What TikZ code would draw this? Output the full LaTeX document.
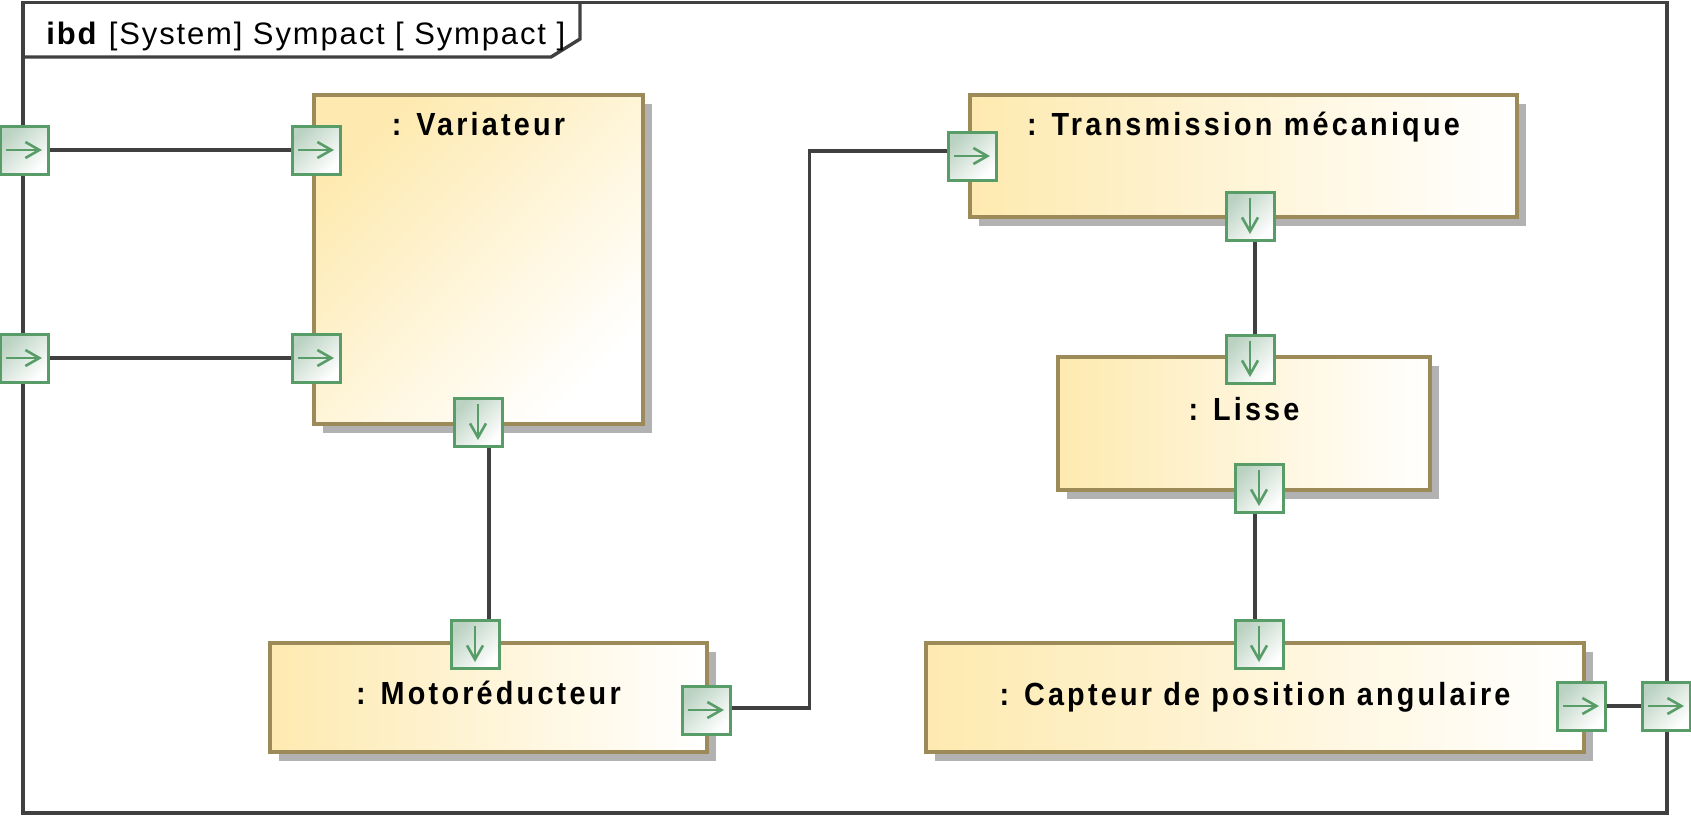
\documentclass[tikz,border=0pt]{standalone}
\usepackage{fontspec}
\setmainfont{Liberation Sans}
\newfontfamily\partfont[LetterSpace=10, FakeStretch=0.9]{Liberation Sans}
\newfontfamily\framefont[LetterSpace=6]{Liberation Sans}
\usetikzlibrary{arrows.meta, positioning, calc, shadows}

\definecolor{partfill}{RGB}{254,234,176}
\definecolor{partline}{RGB}{156,139,88}
\definecolor{partshadow}{RGB}{178,178,178}
\definecolor{portfill}{RGB}{186,210,193}
\definecolor{portline}{RGB}{88,156,104}
\definecolor{connline}{RGB}{64,64,64}

\begin{document}
\begin{tikzpicture}[
  x=0.5pt, y=-0.5pt,
  part/.style={draw=partline, line width=1.6pt, inner sep=0pt, left color=partfill, right color=white,
    general shadow={fill=partshadow, shadow xshift=4.5pt, shadow yshift=-4.5pt}},
  ptitle/.style={anchor=base, inner sep=0pt, font=\partfont\bfseries\fontsize{16pt}{19pt}\selectfont},
  parr/.style={draw=portline, line width=1.3pt, -{Straight Barb[length=7pt, width=8pt]}},
  port/.style={draw=portline, line width=1.5pt, minimum size=24pt, inner sep=0pt,
    top color=portfill, bottom color=white, shading angle=45},
  portR/.style={port, path picture={\draw[parr] ([xshift=-9pt]path picture bounding box.center) -- ([xshift=9pt]path picture bounding box.center);}},
  portD/.style={port, path picture={\draw[parr] ([yshift=9pt]path picture bounding box.center) -- ([yshift=-9pt]path picture bounding box.center);}},
  conn/.style={draw=connline, line width=1.7pt}
]
\useasboundingbox (0,0) rectangle (1691,816);

% frame
\draw[conn] (23,2.5) rectangle (1667,813);
\draw[conn] (23,57) -- (551,57) -- (580,39) -- (580,2.5);
\node[anchor=base west, inner sep=0pt, font=\framefont\fontsize{15.5pt}{18pt}\selectfont] (ttl) at (46,44)
  {\textbf{ibd} [System] Sympact [ Sympact ]};

% parts
\node[part, minimum width=164.5pt, minimum height=164.5pt, top color=partfill, bottom color=white, shading angle=45] (var) at (478.5,259.5) {};
\node[part, minimum width=273.5pt, minimum height=61pt] (trans) at (1243.5,156) {};
\node[part, minimum width=186pt, minimum height=66.5pt] (lisse) at (1244,423.5) {};
\node[part, minimum width=218.5pt, minimum height=54.5pt] (mot) at (488.5,697.5) {};
\node[part, minimum width=329pt, minimum height=54.5pt] (capt) at (1255,697.5) {};

\node[ptitle] (varT) at ([yshift=-21pt]var.north) {: Variateur};
\node[ptitle] (transT) at ([yshift=-21pt]trans.north) {: Transmission mécanique};
\node[ptitle] (lisseT) at ([yshift=-32.5pt]lisse.north) {: Lisse};
\node[ptitle] (motT) at ([yshift=-31.5pt]mot.north) {: Motoréducteur};
\node[ptitle] (captT) at ([yshift=-32pt]capt.north) {: Capteur de position angulaire};

% ports
\node[portR] (sysIn1) at (24,150) {};
\node[portR] (varIn1) at (316,150) {};
\node[portR] (sysIn2) at (24,358) {};
\node[portR] (varIn2) at (316,358) {};
\node[portD] (varOut) at (478,422) {};
\node[portD] (motIn) at (475,644) {};
\node[portR] (motOut) at (706,710) {};
\node[portR] (transIn) at (972,156) {};
\node[portD] (transOut) at (1250,216) {};
\node[portD] (lisseIn) at (1250,359) {};
\node[portD] (lisseOut) at (1259,488) {};
\node[portD] (captIn) at (1259,644) {};
\node[portR] (captOut) at (1581,706) {};
\node[portR] (sysOut) at (1666,706) {};

% connectors
\draw[conn] (sysIn1) -- (varIn1);
\draw[conn] (sysIn2) -- (varIn2);
\draw[conn] ([xshift=5.5pt]varOut.south) -- ([xshift=7pt]motIn.north);
\draw[conn] ([yshift=1pt]motOut.east) -- ++(39pt,0) |- ([yshift=2.5pt]transIn.west);
\draw[conn] ([xshift=2.5pt]transOut.south) -- ([xshift=2.5pt]lisseIn.north);
\draw[conn] ([xshift=-2pt]lisseOut.south) -- ([xshift=-2pt]captIn.north);
\draw[conn] (captOut) -- (sysOut);
\end{tikzpicture}
\end{document}
